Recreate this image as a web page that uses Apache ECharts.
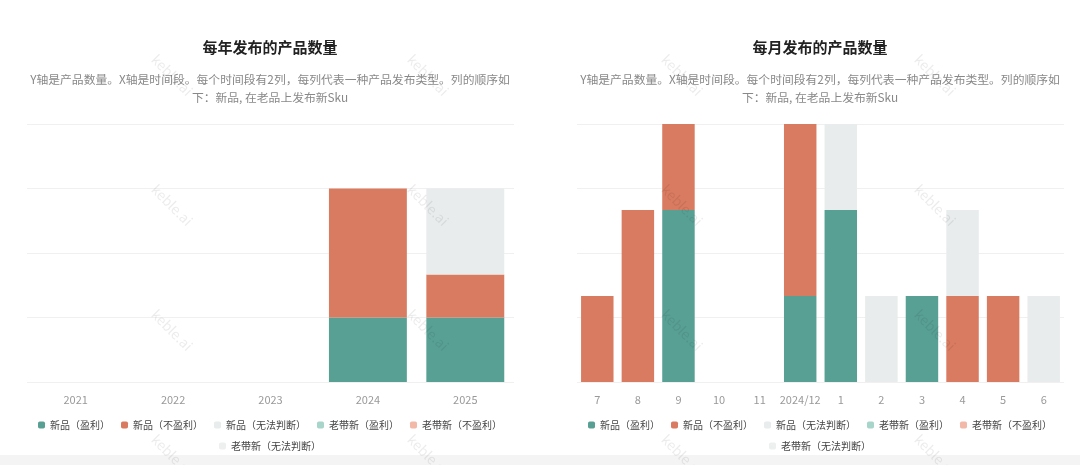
<!DOCTYPE html>
<html>
<head>
<meta charset="utf-8">
<script src="https://cdn.jsdelivr.net/npm/echarts@6/dist/echarts.min.js"></script>
<style>
html,body{margin:0;padding:0;width:1080px;height:465px;overflow:hidden;background:#f4f4f4;}
#bg{position:absolute;left:0;top:0;width:1080px;height:455px;background:#fff;}
.c{position:absolute;top:0;width:540px;height:465px;}
</style>
</head>
<body>
<div id="bg"></div>
<div id="c1" class="c" style="left:0"></div>
<div id="c2" class="c" style="left:550px"></div>
<script>
// ---- data ----
const seriesNames = ['新品（盈利）','新品（不盈利）','新品（无法判断）','老带新（盈利）','老带新（不盈利）','老带新（无法判断）'];
const seriesColors = ['#59a094','#d97b61','#e8ecec','#a8d5c9','#f2b9a8','#eef0f0'];

const yearCategories = ['2021','2022','2023','2024','2025'];
const yearNewProfit   = [0,0,0,3,3];
const yearNewLoss     = [0,0,0,6,2];
const yearNewUnknown  = [0,0,0,0,4];
const yearOldProfit   = [0,0,0,0,0];
const yearOldLoss     = [0,0,0,0,0];
const yearOldUnknown  = [0,0,0,0,0];

const monthCategories = ['7','8','9','10','11','2024/12','1','2','3','4','5','6'];
const monthNewProfit  = [0,0,2,0,0,1,2,0,1,0,0,0];
const monthNewLoss    = [1,2,1,0,0,2,0,0,0,1,1,0];
const monthNewUnknown = [0,0,0,0,0,0,1,1,0,1,0,1];
const monthOldProfit  = [0,0,0,0,0,0,0,0,0,0,0,0];
const monthOldLoss    = [0,0,0,0,0,0,0,0,0,0,0,0];
const monthOldUnknown = [0,0,0,0,0,0,0,0,0,0,0,0];

const subtitleText = 'Y轴是产品数量。X轴是时间段。每个时间段有2列，每列代表一种产品发布类型。列的顺序如\n下：新品, 在老品上发布新Sku';

const FONT = '"Noto Sans CJK SC", "Noto Sans", sans-serif';

function watermarks(xs, ys) {
  const arr = [];
  xs.forEach(x => ys.forEach(y => {
    arr.push({
      type: 'text', x: x, y: y, rotation: -Math.PI / 4, silent: true, z: 100,
      style: { text: 'keble.ai', fill: 'rgba(0,0,0,0.08)', font: '14px ' + FONT, textAlign: 'center', textVerticalAlign: 'middle' }
    });
  }));
  return arr;
}

function buildOption(title, cats, dataLists, yMax, yInterval, wmXs) {
  const series = seriesNames.map((n, i) => ({
    name: n, type: 'bar', stack: 'total', data: dataLists[i],
    barCategoryGap: '20%',
    itemStyle: { color: seriesColors[i] },
    emphasis: { disabled: true }
  }));
  const legendBase = {
    itemWidth: 7, itemHeight: 7, itemGap: 11,
    icon: 'roundRect',
    textStyle: { color: '#444', fontSize: 10, fontFamily: FONT },
    left: 'center'
  };
  return {
    animation: false,
    textStyle: { fontFamily: FONT },
    title: {
      text: title, subtext: subtitleText,
      left: 'center', top: 35, itemGap: 16,
      textStyle: { fontSize: 15, fontWeight: 'bold', color: '#222', fontFamily: FONT },
      subtextStyle: { fontSize: 11.8, color: '#888', lineHeight: 18, fontFamily: FONT, align: 'center' }
    },
    legend: [
      Object.assign({}, legendBase, { top: 415, data: seriesNames.slice(0, 5) }),
      Object.assign({}, legendBase, { top: 436, data: seriesNames.slice(5) })
    ],
    grid: { left: 27, right: 26, top: 124, bottom: 83 },
    xAxis: {
      type: 'category', data: cats,
      axisLine: { show: false }, axisTick: { show: false },
      axisLabel: { color: '#999', fontSize: 11, margin: 12, interval: 0, fontFamily: FONT }
    },
    yAxis: {
      type: 'value', min: 0, max: yMax, interval: yInterval,
      axisLabel: { show: false }, axisLine: { show: false }, axisTick: { show: false },
      splitLine: { lineStyle: { color: '#f0f0f0' } }
    },
    graphic: watermarks(wmXs, [75, 205, 330, 455]),
    series: series
  };
}

const c1 = echarts.init(document.getElementById('c1'), null, { renderer: 'canvas' });
c1.setOption(buildOption('每年发布的产品数量', yearCategories,
  [yearNewProfit, yearNewLoss, yearNewUnknown, yearOldProfit, yearOldLoss, yearOldUnknown], 12, 3, [172, 428]));

const c2 = echarts.init(document.getElementById('c2'), null, { renderer: 'canvas' });
c2.setOption(buildOption('每月发布的产品数量', monthCategories,
  [monthNewProfit, monthNewLoss, monthNewUnknown, monthOldProfit, monthOldLoss, monthOldUnknown], 3, 0.75, [132, 385]));
</script>
</body>
</html>
